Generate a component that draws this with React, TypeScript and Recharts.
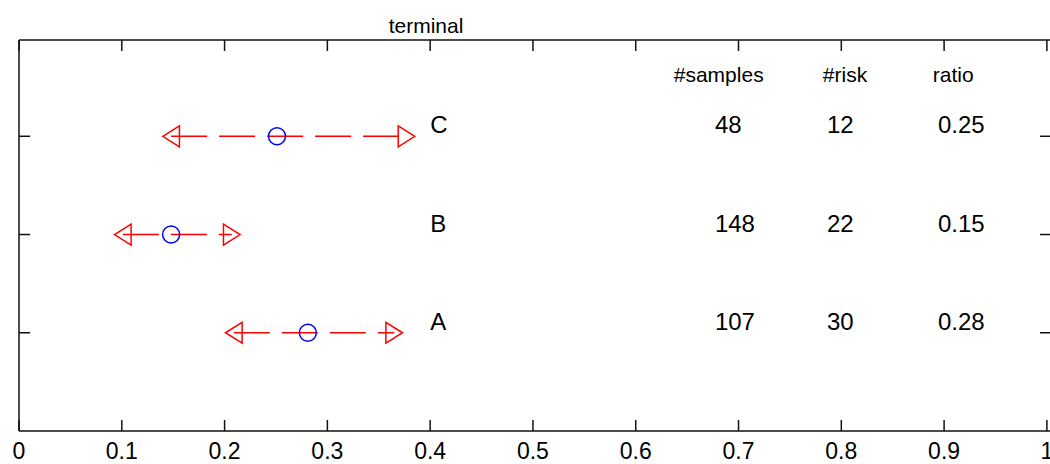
import { ComposedChart, ReferenceLine, Scatter, XAxis, YAxis } from "recharts";

// rows top to bottom
const categories = ["C", "B", "A"];
const rowY = [3, 2, 1];
const lowEnd = [0.148, 0.101, 0.209];
const ratioPoint = [0.251, 0.148, 0.281];
const highEnd = [0.377, 0.207, 0.365];

// table printed next to the intervals
const headers = ["#samples", "#risk", "ratio"];
const samples = ["48", "148", "107"];
const risk = ["12", "22", "30"];
const ratioText = ["0.25", "0.15", "0.28"];

// where the text sits, in axis units
const labelX = 0.4;
const headerX = [0.637, 0.782, 0.889];
const columnX = [0.677, 0.786, 0.894];
const headerY = 3.52;

const xTicks = [0, 0.1, 0.2, 0.3, 0.4, 0.5, 0.6, 0.7, 0.8, 0.9, 1];
const xTickLabels = ["0", "0.1", "0.2", "0.3", "0.4", "0.5", "0.6", "0.7", "0.8", "0.9", "1"];
const yTicks = [1, 2, 3];
const xDomain = [0, 1.004];
const yDomain = [0, 3.98];
const EDGE = 1e-4;
// 11px expressed in y units (plot is 391px tall)
const TICK_Y = (11 / 391) * (yDomain[1] - yDomain[0]);

const FONT = "'Liberation Sans', Arial, sans-serif";
const AXIS = "#111";

const intervals = categories.map((c, i) => [
  { x: lowEnd[i], y: rowY[i], kind: "lo" },
  { x: ratioPoint[i], y: rowY[i], kind: "mid" },
  { x: highEnd[i], y: rowY[i], kind: "hi" },
]);

const labelRows = categories.map((c, i) => ({ x: labelX, y: rowY[i], t: c }));
const headerRows = headers.map((h, i) => ({ x: headerX[i], y: headerY, t: h }));
const tableRows = [samples, risk, ratioText].flatMap((col, j) =>
  col.map((t, i) => ({ x: columnX[j], y: rowY[i], t }))
);

// inward tick marks on top, left and right edges
const topMarks = xTicks.map((v) => ({ x: v || EDGE, y: yDomain[1], dx: 0, dy: 11 }));
const leftMarks = yTicks.map((v) => ({ x: xDomain[0] + EDGE, y: v, dx: 11, dy: 0 }));
const rightMarks = yTicks.map((v) => ({ x: xDomain[1], y: v, dx: -11, dy: 0 }));

function Marker(props: any) {
  const { cx, cy, payload } = props;
  if (payload.kind === "mid") {
    return <circle cx={cx} cy={cy} r={8.5} fill="none" stroke="#0000ff" strokeWidth={1.5} />;
  }
  const d = payload.kind === "lo" ? -1 : 1;
  const w = 8.3;
  const h = 10.5;
  return (
    <polygon
      points={`${cx + d * w},${cy} ${cx - d * w},${cy - h} ${cx - d * w},${cy + h}`}
      fill="none"
      stroke="#ff0000"
      strokeWidth={1.5}
    />
  );
}

function TickMark(props: any) {
  const { cx, cy, payload } = props;
  return (
    <line
      x1={cx}
      y1={cy}
      x2={cx + payload.dx}
      y2={cy + payload.dy}
      stroke={AXIS}
      strokeWidth={1.5}
    />
  );
}

const textShape = (size: number) => (props: any) => (
  <text x={props.cx} y={props.cy - 3} fontSize={size} fontFamily={FONT} fill="#000">
    {props.payload.t}
  </text>
);

function BottomTick(props: any) {
  const { x, y, payload } = props;
  const i = xTicks.indexOf(payload.value);
  return (
    <text x={x} y={y + 28} textAnchor="middle" fontSize={23} fontFamily={FONT} fill="#000">
      {xTickLabels[i]}
    </text>
  );
}

const NoLabel = () => <g />;

export default function App() {
  const axisLine = { stroke: AXIS, strokeWidth: 1.5 };
  const common = {
    type: "number" as const,
    interval: 0 as const,
    tickSize: 0,
    tickMargin: 0,
    tickLine: false,
    axisLine,
  };
  const markSeries = [topMarks, leftMarks, rightMarks];
  return (
    <div
      style={{
        position: "fixed",
        left: 0,
        top: 0,
        width: 1050,
        height: 464,
        overflow: "hidden",
        background: "#fff",
      }}
    >
      <div
        style={{
          position: "absolute",
          left: 426,
          top: 15,
          transform: "translateX(-50%)",
          fontFamily: FONT,
          fontSize: 21,
          lineHeight: 1,
          whiteSpace: "nowrap",
        }}
      >
        terminal
      </div>
      <ComposedChart
        width={1070}
        height={464}
        margin={{ top: 39, right: 18, bottom: 32, left: 18 }}
      >
        <XAxis
          {...common}
          xAxisId="b"
          dataKey="x"
          orientation="bottom"
          domain={xDomain}
          ticks={xTicks}
          height={1}
          tick={<BottomTick />}
        />
        <XAxis
          {...common}
          xAxisId="t"
          dataKey="x"
          orientation="top"
          domain={xDomain}
          ticks={xTicks}
          height={1}
          tick={<NoLabel />}
        />
        <YAxis
          {...common}
          yAxisId="l"
          dataKey="y"
          orientation="left"
          domain={yDomain}
          ticks={yTicks}
          width={1}
          tick={<NoLabel />}
        />
        <YAxis
          {...common}
          yAxisId="r"
          dataKey="y"
          orientation="right"
          domain={yDomain}
          ticks={yTicks}
          width={1}
          tick={<NoLabel />}
        />
        {xTicks.map((v) => (
          <ReferenceLine
            key={`bt-${v}`}
            xAxisId="b"
            yAxisId="l"
            ifOverflow="visible"
            segment={[
              { x: v, y: yDomain[0] },
              { x: v, y: yDomain[0] + TICK_Y },
            ]}
            stroke={AXIS}
            strokeWidth={1.5}
          />
        ))}
        {markSeries.map((marks, k) => (
          <Scatter
            key={`marks-${k}`}
            xAxisId="b"
            yAxisId="l"
            data={marks}
            shape={<TickMark />}
            isAnimationActive={false}
          />
        ))}
        {intervals.map((pts, i) => (
          <Scatter
            key={categories[i]}
            xAxisId="b"
            yAxisId="l"
            data={pts}
            line={{ stroke: "#ff0000", strokeWidth: 1.5, strokeDasharray: "36 12" }}
            lineType="joint"
            shape={<Marker />}
            isAnimationActive={false}
          />
        ))}
        <Scatter xAxisId="b" yAxisId="l" data={labelRows} shape={textShape(24)} isAnimationActive={false} />
        <Scatter xAxisId="b" yAxisId="l" data={tableRows} shape={textShape(24)} isAnimationActive={false} />
        <Scatter xAxisId="b" yAxisId="l" data={headerRows} shape={textShape(21)} isAnimationActive={false} />
      </ComposedChart>
    </div>
  );
}
